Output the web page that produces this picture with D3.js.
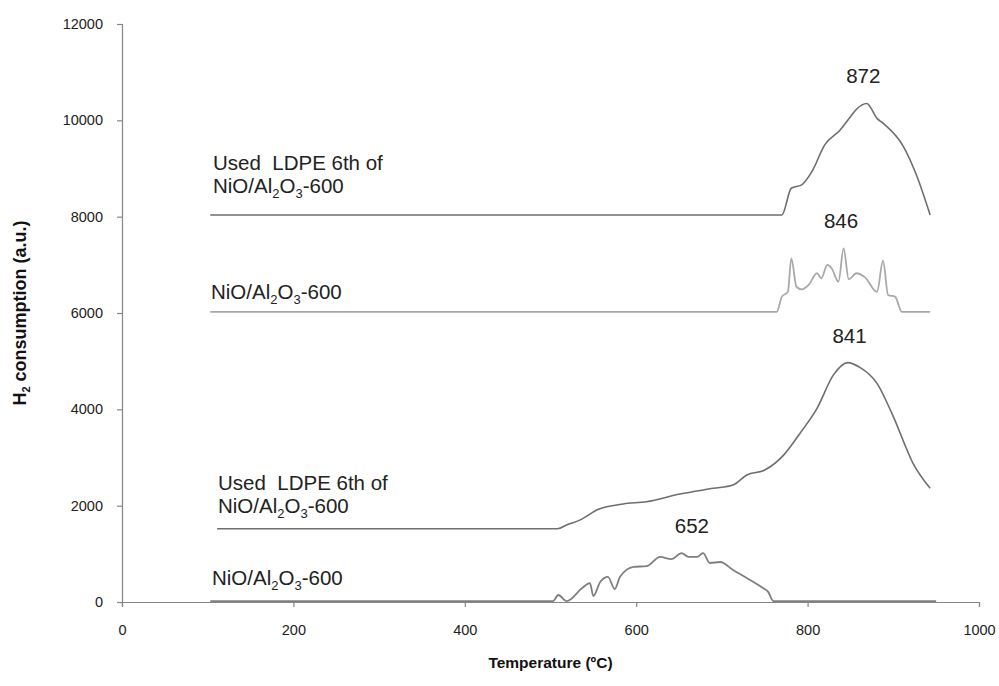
<!DOCTYPE html>
<html>
<head>
<meta charset="utf-8">
<script src="https://cdn.jsdelivr.net/npm/d3@7"></script>
<style>
  body { margin: 0; background: #fff; }
  svg { font-family: "Liberation Sans", Arial, sans-serif; }
</style>
</head>
<body>
<svg id="chart" width="999" height="686"></svg>
<script>
// TPR profiles: temperature (°C) and H2 consumption (a.u.), curves stacked with offsets
const xTicks = [0, 200, 400, 600, 800, 1000];
const yTicks = [0, 2000, 4000, 6000, 8000, 10000, 12000];

const freshT = [103, 503, 509, 519, 537, 546, 550, 558, 567, 575, 581, 597, 612, 628, 641, 653, 661, 671, 678, 686, 698, 713, 729, 748, 754, 760, 950];
const freshV = [20, 20, 145, 20, 290, 390, 125, 415, 520, 270, 520, 730, 745, 935, 890, 1015, 935, 935, 1015, 810, 830, 665, 500, 290, 210, 20, 20];

const usedLowT = [111, 508, 520, 534, 556, 585, 612, 651, 690, 713, 729, 750, 772, 791, 811, 830, 847, 861, 881, 900, 923, 943];
const usedLowV = [1520, 1520, 1610, 1700, 1925, 2035, 2083, 2242, 2360, 2430, 2636, 2740, 3050, 3500, 4020, 4710, 4970, 4870, 4540, 3850, 2880, 2360];

const freshMidT = [103, 764, 770, 777, 781, 787, 793, 801, 811, 816, 823, 828, 836, 842, 848, 857, 867, 881, 888, 894, 902, 910, 943];
const freshMidV = [6025, 6025, 6340, 6440, 7135, 6545, 6490, 6580, 6825, 6720, 7000, 6930, 6650, 7340, 6700, 6825, 6740, 6440, 7085, 6370, 6340, 6025, 6025];

const usedTopT = [103, 770, 781, 793, 805, 820, 838, 850, 857, 869, 881, 888, 912, 927, 943];
const usedTopV = [8035, 8035, 8590, 8660, 8935, 9490, 9800, 10075, 10230, 10350, 10040, 9940, 9450, 8865, 8035];

// peak temperatures, placed above each maximum
const peakLabels = [
  { t: 665, v: 1015, text: "652" },
  { t: 849, v: 4970, text: "841" },
  { t: 839, v: 7340, text: "846" },
  { t: 865, v: 10350, text: "872" }
];

const svg = d3.select("#chart");

const x = d3.scaleLinear().domain([0, 1000]).range([122, 979]);
const y = d3.scaleLinear().domain([0, 12000]).range([602, 24]);

const axisColor = "#868686";

// axes
const xAxis = svg.append("g").attr("transform", `translate(0,${y(0)})`)
  .call(d3.axisBottom(x).tickValues(xTicks).tickSize(5).tickPadding(18).tickFormat(d3.format("d")));
const yAxis = svg.append("g").attr("transform", `translate(${x(0)},0)`)
  .call(d3.axisLeft(y).tickValues(yTicks).tickSize(5).tickPadding(14).tickFormat(d3.format("d")));
[xAxis, yAxis].forEach(a => {
  a.select(".domain").attr("stroke", axisColor).attr("stroke-width", 1.2);
  a.selectAll(".tick line").attr("stroke", axisColor).attr("stroke-width", 1.2);
  a.selectAll(".tick text").attr("fill", "#222").style("font-size", "14.5px")
    .style("font-family", "'Liberation Sans', Arial, sans-serif");
});

// axis titles
svg.append("text").attr("x", x(500)).attr("y", 668).attr("text-anchor", "middle")
  .style("font-size", "15.5px").style("font-weight", "bold").attr("fill", "#111")
  .text("Temperature (ºC)");

const yt = svg.append("text")
  .attr("transform", `translate(26,${y(6000)}) rotate(-90)`)
  .attr("text-anchor", "middle")
  .style("font-size", "18px").style("font-weight", "bold").attr("fill", "#111");
yt.append("tspan").text("H");
yt.append("tspan").attr("dy", 4).style("font-size", "11px").text("2");
yt.append("tspan").attr("dy", -4).text(" consumption (a.u.)");

// curves
const line = d3.line().x(d => x(d[0])).y(d => y(d[1])).curve(d3.curveMonotoneX);
const series = [
  { t: freshT, v: freshV, color: "#7f7f7f", w: 1.8 },
  { t: usedLowT, v: usedLowV, color: "#6e6e6e", w: 1.6 },
  { t: freshMidT, v: freshMidV, color: "#a9a9a9", w: 1.8 },
  { t: usedTopT, v: usedTopV, color: "#6e6e6e", w: 1.6 }
];
series.forEach(s => {
  svg.append("path").datum(d3.zip(s.t, s.v)).attr("d", line)
    .attr("fill", "none").attr("stroke", s.color).attr("stroke-width", s.w)
    .attr("stroke-linejoin", "round");
});

// peak temperature labels
peakLabels.forEach(p => {
  svg.append("text").attr("x", x(p.t)).attr("y", y(p.v) - 20)
    .attr("text-anchor", "middle").style("font-size", "20.5px").attr("fill", "#222")
    .text(p.text);
});

// sample names
function catalystLabel(xp, yp) {
  const t = svg.append("text").attr("x", xp).attr("y", yp)
    .style("font-size", "20.5px").attr("fill", "#222");
  t.append("tspan").text("NiO/Al");
  t.append("tspan").attr("dy", 5).style("font-size", "13px").text("2");
  t.append("tspan").attr("dy", -5).text("O");
  t.append("tspan").attr("dy", 5).style("font-size", "13px").text("3");
  t.append("tspan").attr("dy", -5).text("-600");
}
function usedLabel(xp, yp) {
  svg.append("text").attr("x", xp).attr("y", yp)
    .style("font-size", "20.5px").attr("fill", "#222").attr("xml:space", "preserve")
    .text("Used  LDPE 6th of");
  catalystLabel(xp, yp + 23);
}
usedLabel(213, 170);
catalystLabel(211, 299);
usedLabel(218, 490);
catalystLabel(212, 585);
</script>
</body>
</html>
